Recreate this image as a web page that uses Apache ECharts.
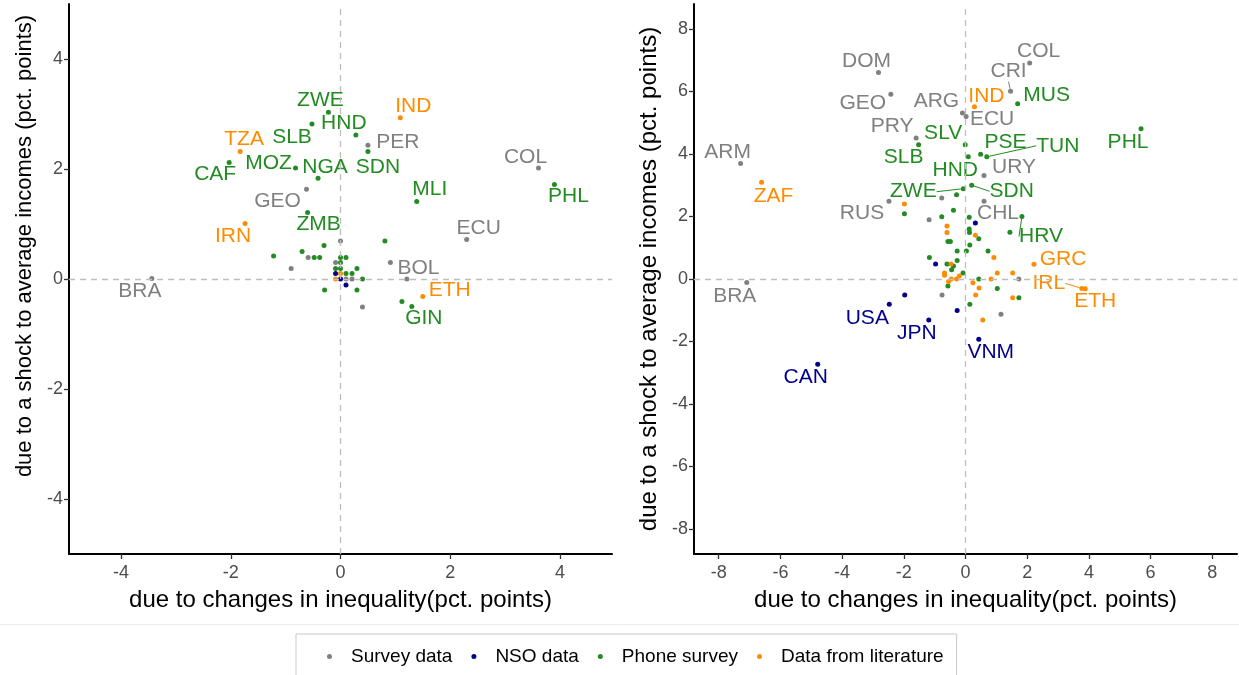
<!DOCTYPE html>
<html>
<head>
<meta charset="utf-8">
<script src="https://cdn.jsdelivr.net/npm/echarts@6/dist/echarts.min.js"></script>
<style>
html,body{margin:0;padding:0;background:#fff;}
#chart{width:1239px;height:675px;}
</style>
</head>
<body>
<div id="chart"></div>
<script>
// ---------- data: [x (inequality), y (average income), label] ----------
const categories = ['Survey data', 'NSO data', 'Phone survey', 'Data from literature'];

const leftSurvey = [
  [-3.44, 0.01, 'BRA'], [0.50, 2.43, 'PER'], [3.61, 2.02, 'COL'], [-0.62, 1.63, 'GEO'],
  [2.30, 0.72, 'ECU'], [0.91, 0.30, 'BOL'],
  [0.00, 0.69, ''], [-0.59, 0.39, ''], [-0.90, 0.19, ''], [-0.09, 0.30, ''],
  [0.10, 0.00, ''], [0.21, 0.00, ''], [0.40, -0.51, ''], [1.21, 0.00, '']
];
const leftNSO = [
  [-0.09, 0.10, ''], [0.00, 0.00, ''], [0.10, -0.11, '']
];
const leftPhone = [
  [-0.22, 3.03, 'ZWE'], [-0.52, 2.82, 'SLB'], [0.28, 2.62, 'HND'], [0.50, 2.32, 'SDN'],
  [-2.03, 2.12, 'CAF'], [-0.82, 2.02, 'MOZ'], [-0.41, 1.83, 'NGA'], [3.90, 1.72, 'PHL'],
  [1.39, 1.41, 'MLI'], [-0.60, 1.21, 'ZMB'], [1.30, -0.50, 'GIN'],
  [0.81, 0.69, ''], [-0.30, 0.61, ''], [-0.70, 0.50, ''], [-1.22, 0.42, ''],
  [-0.48, 0.39, ''], [-0.38, 0.39, ''], [0.00, 0.39, ''], [0.10, 0.39, ''],
  [0.00, 0.30, ''], [-0.09, 0.19, ''], [0.00, 0.19, ''], [0.30, 0.19, ''],
  [0.10, 0.10, ''], [0.21, 0.10, ''], [0.40, 0.00, ''], [-0.29, -0.20, ''],
  [0.30, -0.20, ''], [1.12, -0.41, '']
];
const leftLit = [
  [1.09, 2.93, 'IND'], [-1.83, 2.32, 'TZA'], [-1.74, 1.01, 'IRN'], [1.50, -0.32, 'ETH'],
  [0.00, 0.10, ''], [-0.09, 0.00, '']
];

const rightSurvey = [
  [2.08, 6.91, 'COL'], [-2.82, 6.61, 'DOM'], [1.46, 6.01, 'CRI'], [-2.42, 5.91, 'GEO'],
  [-0.10, 5.31, 'ARG'], [0.02, 5.20, 'ECU'], [-1.60, 4.51, 'PRY'], [-7.29, 3.70, 'ARM'],
  [0.60, 3.31, 'URY'], [-2.48, 2.49, 'RUS'], [0.60, 2.49, 'CHL'], [-7.09, -0.11, 'BRA'],
  [-0.77, 2.59, ''], [-1.18, 1.90, ''], [1.73, 0.00, ''], [-0.76, -0.51, ''], [1.15, -1.13, '']
];
const rightNSO = [
  [-2.47, -0.81, 'USA'], [-1.19, -1.31, 'JPN'], [0.43, -1.93, 'VNM'], [-4.79, -2.73, 'CAN'],
  [0.32, 1.79, ''], [-0.97, 0.48, ''], [-1.97, -0.51, ''], [-0.27, -1.01, '']
];
const rightPhone = [
  [1.69, 5.61, 'MUS'], [-0.01, 4.30, 'SLV'], [-1.52, 4.30, 'SLB'], [5.69, 4.81, 'PHL'],
  [0.49, 3.99, 'PSE'], [0.69, 3.91, 'TUN'], [0.09, 3.91, 'HND'], [0.20, 3.00, 'SDN'],
  [-0.07, 2.89, 'ZWE'], [1.83, 2.00, 'HRV'],
  [-0.29, 2.70, ''], [-1.98, 2.09, ''], [-0.39, 2.20, ''], [-0.77, 1.99, ''], [0.12, 1.98, ''],
  [1.44, 1.50, ''], [0.12, 1.60, ''], [0.13, 1.49, ''], [0.43, 1.29, ''], [-0.57, 1.20, ''],
  [-0.49, 1.20, ''], [0.14, 1.09, ''], [-0.27, 0.90, ''], [0.03, 0.90, ''], [0.73, 0.90, ''],
  [-1.17, 0.69, ''], [-0.27, 0.59, ''], [-0.60, 0.48, ''], [-0.39, 0.42, ''], [-0.45, 0.30, ''],
  [-0.08, 0.19, ''], [0.43, 0.00, ''], [-0.57, -0.22, ''], [1.03, -0.30, ''], [1.73, -0.60, ''],
  [0.14, -0.81, '']
];
const rightLit = [
  [0.29, 5.51, 'IND'], [-6.61, 3.10, 'ZAF'], [2.22, 0.47, 'GRC'], [3.77, -0.30, 'IRL'],
  [3.88, -0.31, 'ETH'],
  [-1.98, 2.40, ''], [-0.60, 1.70, ''], [-0.60, 1.49, ''], [0.32, 1.40, ''], [0.92, 0.69, ''],
  [-0.47, 0.48, ''], [-0.68, 0.19, ''], [-0.68, 0.12, ''], [-0.20, 0.10, ''], [-0.29, 0.00, ''],
  [-0.46, 0.00, ''], [-0.55, -0.08, ''], [1.03, 0.19, ''], [1.53, 0.19, ''], [0.83, 0.00, ''],
  [0.24, -0.12, ''], [0.44, -0.29, ''], [0.33, -0.51, ''], [1.53, -0.60, ''], [0.56, -1.31, '']
];

const xTicksLeft = [-4, -2, 0, 2, 4];
const yTicksLeft = [-4, -2, 0, 2, 4];
const xTicksRight = [-8, -6, -4, -2, 0, 2, 4, 6, 8];
const yTicksRight = [-8, -6, -4, -2, 0, 2, 4, 6, 8];

const xTitle = 'due to changes in inequality(pct. points)';
const yTitle = 'due to a shock to average incomes (pct. points)';

// ---------- styling (kept separate from data) ----------
const colors = ['#808080', '#00008B', '#228B22', '#FF8C00'];
const FONT = 'Liberation Sans, Arial, sans-serif';

// label offsets (pixels) relative to the point, per panel
const labelOffsets = [
  { ZWE:[-8,-12], HND:[-12,-12], SLB:[-20,13], IND:[13,-12], TZA:[4,-12], PER:[30,-3],
    SDN:[10,16], CAF:[-14,12], MOZ:[-27,-5], NGA:[7,-11], COL:[-13,-11], PHL:[14,12],
    MLI:[13,-12], GEO:[-29,12], ZMB:[11,12], IRN:[-12,13], ECU:[12,-11], BOL:[28,6],
    BRA:[-12,13], ETH:[27,-6], GIN:[12,12] },
  { COL:[9,-12], DOM:[-12,-11], CRI:[-2,-20], GEO:[-28,9], MUS:[29,-8], IND:[12,-11],
    ARG:[-26,-12], ECU:[26,3], PRY:[-24,-12], SLV:[-22,-11], SLB:[-15,13], ARM:[-13,-11],
    ZAF:[12,14], PHL:[-13,14], PSE:[25,-12], TUN:[71,-11], HND:[-13,13], URY:[30,-8],
    SDN:[40,6], ZWE:[-50,3], RUS:[-27,12], CHL:[14,12], HRV:[19,20], GRC:[29,-5],
    IRL:[-33,-5], ETH:[10,13], USA:[-22,14], JPN:[-12,13], VNM:[12,13], CAN:[-12,13],
    BRA:[-12,14] }
];
const leaderLines = [[], ['CRI', 'TUN', 'SDN', 'ZWE', 'HRV', 'IRL']];

const panels = [
  [leftSurvey, leftNSO, leftPhone, leftLit],
  [rightSurvey, rightNSO, rightPhone, rightLit]
];

const series = [];

// dashed zero lines
[0, 1].forEach(p => {
  series.push({
    type: 'scatter', xAxisIndex: p, yAxisIndex: p, data: [], z: 1, silent: true,
    markLine: {
      silent: true, symbol: ['none', 'none'], label: { show: false },
      lineStyle: { color: '#BEBEBE', type: [6, 5], width: 1.3 },
      emphasis: { disabled: true },
      data: [{ xAxis: 0 }, { yAxis: 0 }]
    }
  });
});

[0, 1].forEach(p => {
  panels[p].forEach((arr, c) => {
    series.push({
      name: categories[c],
      type: 'scatter',
      xAxisIndex: p, yAxisIndex: p,
      symbolSize: 5,
      z: 2,
      itemStyle: { color: colors[c], opacity: 1 },
      label: {
        show: false, position: 'inside', formatter: '{b}',
        fontFamily: FONT, fontSize: 21, color: colors[c],
        align: 'center', verticalAlign: 'middle'
      },
      labelLine: { show: false, lineStyle: { color: colors[c], width: 1 } },
      labelLayout: function (params) {
        const o = labelOffsets[p][params.text];
        return o ? { dx: o[0], dy: o[1] } : {};
      },
      emphasis: { disabled: true },
      data: arr.map(d => ({
        value: [d[0], d[1]],
        name: d[2],
        label: { show: d[2] !== '' },
        labelLine: { show: leaderLines[p].indexOf(d[2]) >= 0 }
      }))
    });
  });
});

function xAxis(p, min, max, ticks) {
  return {
    type: 'value', gridIndex: p, min: min, max: max,
    name: xTitle, nameLocation: 'middle', nameGap: 34,
    nameTextStyle: { fontFamily: FONT, fontSize: 24, color: '#000' },
    splitLine: { show: false },
    axisLine: { show: true, onZero: false, lineStyle: { color: '#000', width: 2 } },
    axisTick: { show: true, customValues: ticks, length: 5, lineStyle: { color: '#333', width: 1.3 } },
    axisLabel: { customValues: ticks, fontFamily: FONT, fontSize: 18, color: '#4D4D4D', margin: 10 }
  };
}
function yAxis(p, min, max, ticks, fs, pad) {
  return {
    type: 'value', gridIndex: p, min: min, max: max,
    name: yTitle, nameLocation: 'middle', nameGap: 33,
    nameTextStyle: { fontFamily: FONT, fontSize: fs, color: '#000', padding: pad },
    splitLine: { show: false },
    axisLine: { show: true, onZero: false, lineStyle: { color: '#000', width: 2 } },
    axisTick: { show: true, customValues: ticks, length: 5, lineStyle: { color: '#333', width: 1.3 } },
    axisLabel: { customValues: ticks, fontFamily: FONT, fontSize: 18, color: '#4D4D4D', margin: 6 }
  };
}

const chart = echarts.init(document.getElementById('chart'), null, { renderer: 'canvas' });
chart.setOption({
  animation: false,
  backgroundColor: '#fff',
  grid: [
    { left: 69, top: 4, width: 543, height: 550 },
    { left: 694, top: 4, width: 543, height: 550 }
  ],
  xAxis: [xAxis(0, -4.95, 4.95, xTicksLeft), xAxis(1, -8.8, 8.8, xTicksRight)],
  yAxis: [yAxis(0, -5, 5, yTicksLeft, 22, [0, 0, 0, 66]), yAxis(1, -8.8, 8.8, yTicksRight, 24, 0)],
  legend: {
    data: categories,
    left: 296, top: 634,
    orient: 'horizontal',
    icon: 'circle',
    itemWidth: 5, itemHeight: 5, itemGap: 19,
    padding: [13, 13, 13, 31],
    borderColor: '#C8C8C8', borderWidth: 1,
    textStyle: { fontFamily: FONT, fontSize: 19, color: '#000', padding: [0, 0, 0, 14] },
    selectedMode: false
  },
  graphic: [{
    type: 'line', silent: true,
    shape: { x1: 0, y1: 624.5, x2: 1239, y2: 624.5 },
    style: { stroke: '#EBEBEB', lineWidth: 1 }
  }],
  series: series
});
</script>
</body>
</html>
